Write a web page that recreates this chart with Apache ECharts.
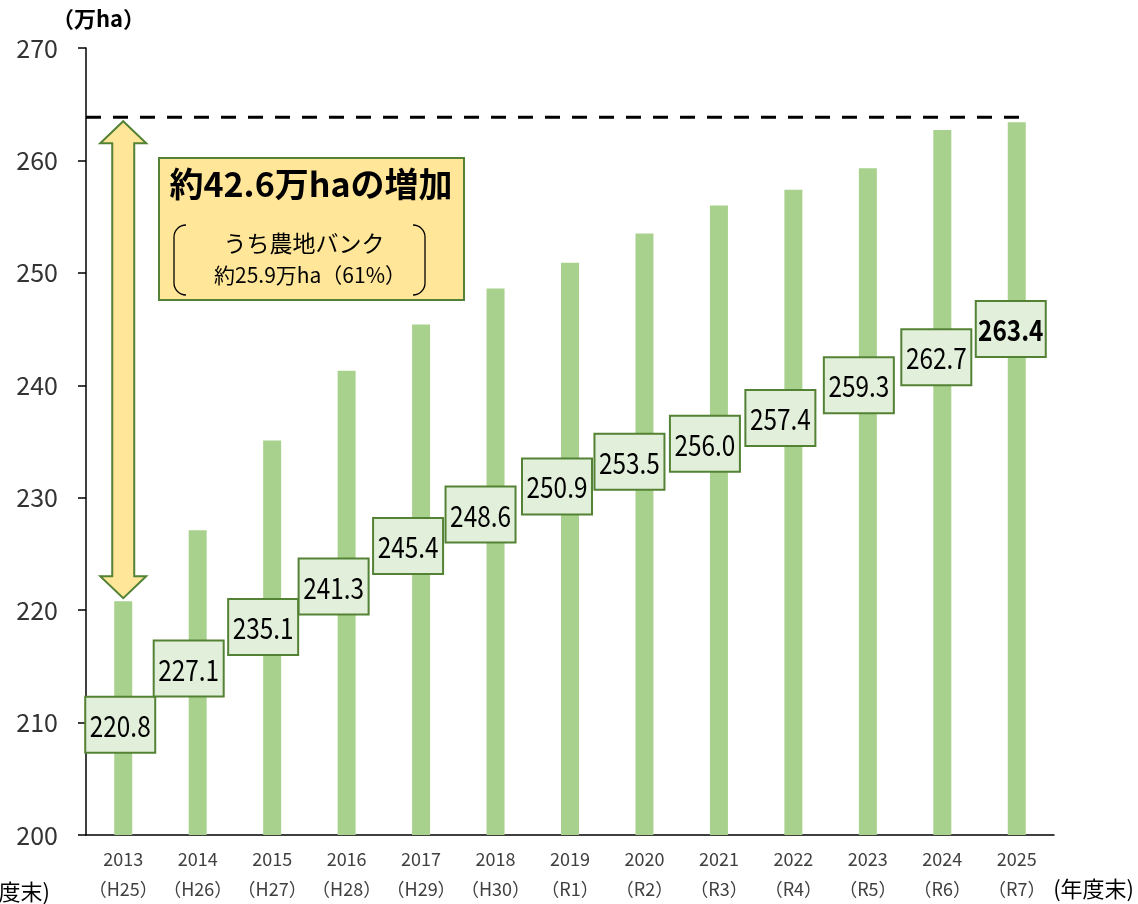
<!DOCTYPE html>
<html>
<head>
<meta charset="utf-8">
<script src="https://cdn.jsdelivr.net/npm/echarts@6/dist/echarts.min.js"></script>
<style>
  html, body { margin: 0; padding: 0; background: #fff; }
  #chart { width: 1138px; height: 904px; }
</style>
</head>
<body>
<div id="chart"></div>
<script>
// 年度末の面積（万ha）
const years = ['2013', '2014', '2015', '2016', '2017', '2018', '2019', '2020', '2021', '2022', '2023', '2024', '2025'];
const eras = ['H25', 'H26', 'H27', 'H28', 'H29', 'H30', 'R1', 'R2', 'R3', 'R4', 'R5', 'R6', 'R7'];
const values = [220.8, 227.1, 235.1, 241.3, 245.4, 248.6, 250.9, 253.5, 256.0, 257.4, 259.3, 262.7, 263.4];
const yTicks = [200, 210, 220, 230, 240, 250, 260, 270];

// 値ラベルの置き場所（軸の単位）
const labelAt = [209.8, 214.8, 218.5, 222.1, 225.7, 228.5, 231.0, 233.2, 234.8, 237.1, 240.0, 242.5, 245.0];
const labelDx = [-3, -9, -9, -13, -13, -15, -13, -15, -14, -13, -9, -6, -6];

const green = '#548235';
const barColor = '#A9D18E';
const yellow = '#FFE699';
const jp = '"Noto Sans CJK JP", "Noto Sans", sans-serif';
const last = values.length - 1;

const myChart = echarts.init(document.getElementById('chart'));

const option = {
  animation: false,
  textStyle: { fontFamily: jp },
  grid: { left: 86, right: 84, top: 48, bottom: 68 },
  xAxis: {
    type: 'category',
    data: years,
    axisLine: { lineStyle: { color: '#000', width: 1.5 } },
    axisTick: { length: 6, lineStyle: { color: '#000', width: 1.5 } },
    axisLabel: {
      interval: 0,
      margin: 9,
      fontSize: 18,
      lineHeight: 30,
      color: '#404040',
      fontFamily: jp,
      formatter: (v, i) => v + '\n（' + eras[i] + '）'
    }
  },
  yAxis: {
    type: 'value',
    min: yTicks[0],
    max: yTicks[yTicks.length - 1],
    interval: 10,
    splitLine: { show: false },
    axisLine: { show: true, lineStyle: { color: '#000', width: 1.5 } },
    axisTick: { show: true, inside: false, length: 8, lineStyle: { color: '#000', width: 1.5 } },
    axisLabel: { fontSize: 25, color: '#333', margin: 28, fontFamily: jp }
  },
  series: [
    {
      type: 'bar',
      data: values,
      barWidth: 18,
      itemStyle: { color: barColor },
      z: 2
    },
    {
      // 値の箱
      type: 'custom',
      data: labelAt.map((y, i) => [i, y]),
      z: 5,
      renderItem: function (params, api) {
        const i = params.dataIndex;
        const p = api.coord([i, labelAt[i]]);
        const cx = p[0] + labelDx[i];
        const cy = p[1];
        const w = 70, h = 56;
        return {
          type: 'group',
          children: [
            {
              type: 'rect',
              shape: { x: cx - w / 2, y: cy - h / 2, width: w, height: h },
              style: { fill: '#E2EFDA', stroke: green, lineWidth: 2 }
            },
            {
              type: 'text',
              x: cx, y: cy + 1,
              scaleX: 0.84,
              style: {
                text: values[i].toFixed(1),
                font: (i === last ? 'bold ' : '') + '29px ' + jp,
                fill: '#000',
                align: 'center',
                verticalAlign: 'middle'
              }
            }
          ]
        };
      }
    },
    {
      // 増加幅の矢印と上限の破線
      type: 'custom',
      data: [[0, values[0]]],
      z: 4,
      renderItem: function (params, api) {
        const top = api.coord([last, Math.max(...values)]);
        const bot = api.coord([0, Math.min(...values)]);
        const x = bot[0];
        const y1 = top[1] - 1;
        const y2 = bot[1] - 3;
        const hw = 23, sw = 11, hh = 22;
        const pts = [
          [x, y1], [x + hw, y1 + hh], [x + sw, y1 + hh], [x + sw, y2 - hh],
          [x + hw, y2 - hh], [x, y2], [x - hw, y2 - hh], [x - sw, y2 - hh],
          [x - sw, y1 + hh], [x - hw, y1 + hh]
        ];
        return {
          type: 'group',
          children: [
            {
              type: 'line',
              shape: { x1: params.coordSys.x, y1: top[1] - 5, x2: top[0] + 9, y2: top[1] - 5 },
              style: { stroke: '#000', lineWidth: 3, lineDash: [15, 12] }
            },
            {
              type: 'polygon',
              shape: { points: pts },
              style: { fill: yellow, stroke: green, lineWidth: 2 }
            }
          ]
        };
      }
    }
  ],
  graphic: [
    {
      type: 'text', left: 52, top: 8,
      style: { text: '（万ha）', font: 'bold 22px ' + jp, fill: '#000' }
    },
    {
      type: 'text', right: 4, top: 878,
      style: { text: '(年度末)', font: '22px ' + jp, fill: '#000' }
    },
    {
      type: 'text', x: 50, y: 892,
      style: { text: '(年度末)', font: '22px ' + jp, fill: '#000', align: 'right', verticalAlign: 'middle' }
    },
    {
      type: 'group',
      z: 10,
      children: [
        {
          type: 'rect',
          shape: { x: 159, y: 158, width: 305, height: 142 },
          style: { fill: yellow, stroke: green, lineWidth: 2 }
        },
        {
          type: 'text', x: 311, y: 184,
          style: { text: '約42.6万haの増加', font: 'bold 34px ' + jp, fill: '#000', align: 'center', verticalAlign: 'middle' }
        },
        {
          type: 'text', x: 304, y: 243,
          style: { text: 'うち農地バンク', font: '23px ' + jp, fill: '#000', align: 'center', verticalAlign: 'middle' }
        },
        {
          type: 'text', x: 310, y: 275,
          style: { text: '約25.9万ha（61%）', font: '21px ' + jp, fill: '#000', align: 'center', verticalAlign: 'middle' }
        },
        // 左右の括弧
        { type: 'line', shape: { x1: 174, y1: 237, x2: 174, y2: 283 }, style: { stroke: '#000', lineWidth: 1.3 } },
        { type: 'arc', shape: { cx: 186, cy: 237, r: 12, startAngle: Math.PI, endAngle: Math.PI * 1.5 }, style: { stroke: '#000', lineWidth: 1.3, fill: null } },
        { type: 'arc', shape: { cx: 186, cy: 283, r: 12, startAngle: Math.PI * 0.5, endAngle: Math.PI }, style: { stroke: '#000', lineWidth: 1.3, fill: null } },
        { type: 'line', shape: { x1: 425, y1: 237, x2: 425, y2: 283 }, style: { stroke: '#000', lineWidth: 1.3 } },
        { type: 'arc', shape: { cx: 413, cy: 237, r: 12, startAngle: Math.PI * 1.5, endAngle: Math.PI * 2 }, style: { stroke: '#000', lineWidth: 1.3, fill: null } },
        { type: 'arc', shape: { cx: 413, cy: 283, r: 12, startAngle: 0, endAngle: Math.PI * 0.5 }, style: { stroke: '#000', lineWidth: 1.3, fill: null } }
      ]
    }
  ]
};

myChart.setOption(option);
window.addEventListener('resize', function () {
  myChart.resize();
});
</script>
</body>
</html>
